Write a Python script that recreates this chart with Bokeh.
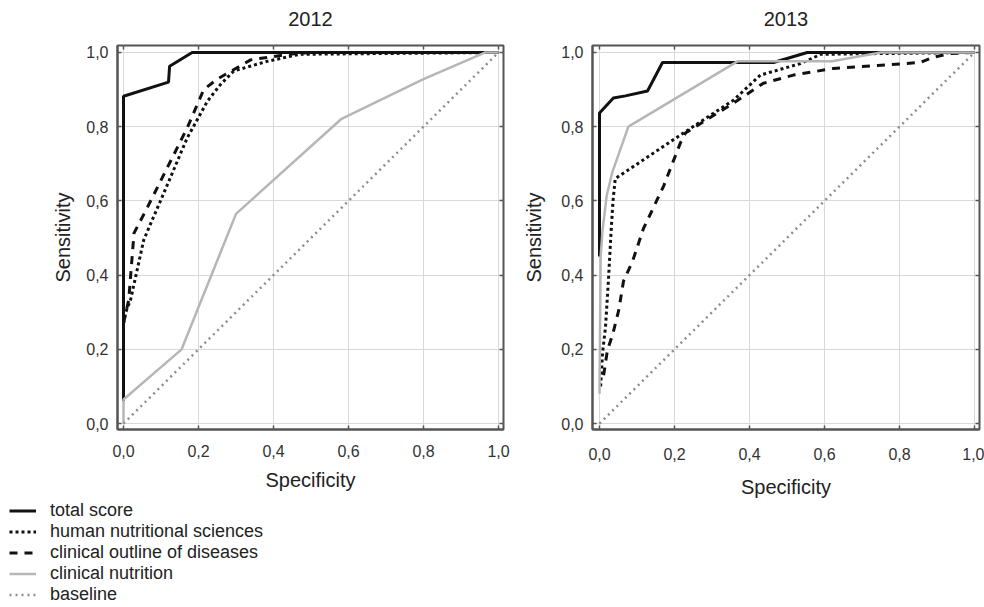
import numpy as np
from bokeh.plotting import figure
from bokeh.layouts import row, column
from bokeh.models import (FixedTicker, CustomJSTickFormatter, LinearAxis, Range1d,
                          Legend, LegendItem)
from bokeh.embed import file_html
from bokeh.resources import INLINE

FONT = "Liberation Sans"

ticks = [0.0, 0.2, 0.4, 0.6, 0.8, 1.0]
tick_labels = ["0,0", "0,2", "0,4", "0,6", "0,8", "1,0"]

series_names = ["total score", "human nutritional sciences",
                "clinical outline of diseases", "clinical nutrition", "baseline"]

# ---- 2012 ----
total_2012_x = [0.0, 0.0, 0.12, 0.123, 0.183, 1.0]
total_2012_y = [0.06, 0.882, 0.92, 0.963, 1.0, 1.0]
human_2012_x = [0.0, 0.006, 0.019, 0.054, 0.107, 0.17, 0.224, 0.259, 0.294, 0.383, 0.47, 1.0]
human_2012_y = [0.27, 0.30, 0.334, 0.495, 0.62, 0.77, 0.869, 0.914, 0.95, 0.976, 0.995, 1.0]
outline_2012_x = [0.0, 0.014, 0.028, 0.064, 0.117, 0.17, 0.214, 0.25, 0.339, 0.44, 0.5, 1.0]
outline_2012_y = [0.27, 0.334, 0.513, 0.583, 0.69, 0.797, 0.90, 0.928, 0.98, 0.995, 1.0, 1.0]
nutrition_2012_x = [0.0, 0.0, 0.155, 0.30, 0.58, 0.80, 0.965, 1.0]
nutrition_2012_y = [0.0, 0.065, 0.2, 0.565, 0.82, 0.928, 1.0, 1.0]
baseline_x = [0.0, 1.0]
baseline_y = [0.0, 1.0]

# ---- 2013 ----
total_2013_x = [0.0, 0.0, 0.037, 0.069, 0.128, 0.168, 0.464, 0.554, 1.0]
total_2013_y = [0.45, 0.837, 0.877, 0.883, 0.896, 0.973, 0.973, 1.0, 1.0]
human_2013_x = [0.003, 0.008, 0.016, 0.024, 0.031, 0.036, 0.042, 0.224, 0.358, 0.429, 0.536, 0.59, 1.0]
human_2013_y = [0.10, 0.19, 0.26, 0.39, 0.52, 0.60, 0.66, 0.783, 0.872, 0.939, 0.97, 0.995, 1.0]
outline_2013_x = [0.011, 0.021, 0.035, 0.051, 0.064, 0.088, 0.117, 0.171, 0.216, 0.229, 0.358,
                  0.437, 0.517, 0.624, 0.741, 0.856, 0.89, 0.936, 1.0]
outline_2013_y = [0.13, 0.197, 0.24, 0.304, 0.384, 0.437, 0.525, 0.64, 0.757, 0.783, 0.864,
                  0.917, 0.939, 0.957, 0.965, 0.973, 0.987, 0.997, 1.0]
nutrition_2013_x = [0.0, 0.003, 0.008, 0.019, 0.034, 0.077, 0.368, 0.62, 0.75, 1.0]
nutrition_2013_y = [0.08, 0.45, 0.52, 0.613, 0.677, 0.80, 0.976, 0.976, 1.0, 1.0]

data_2012 = {
    "total score": (total_2012_x, total_2012_y),
    "human nutritional sciences": (human_2012_x, human_2012_y),
    "clinical outline of diseases": (outline_2012_x, outline_2012_y),
    "clinical nutrition": (nutrition_2012_x, nutrition_2012_y),
    "baseline": (baseline_x, baseline_y),
}
data_2013 = {
    "total score": (total_2013_x, total_2013_y),
    "human nutritional sciences": (human_2013_x, human_2013_y),
    "clinical outline of diseases": (outline_2013_x, outline_2013_y),
    "clinical nutrition": (nutrition_2013_x, nutrition_2013_y),
    "baseline": (baseline_x, baseline_y),
}

styles = {
    "total score": dict(line_color="#111111", line_width=3),
    "human nutritional sciences": dict(line_color="#111111", line_width=3, line_dash="3 3"),
    "clinical outline of diseases": dict(line_color="#111111", line_width=3, line_dash="8 7"),
    "clinical nutrition": dict(line_color="#b6b6b6", line_width=2.5),
    "baseline": dict(line_color="#8e8e8e", line_width=2.5, line_dash="2 4"),
}
draw_order = ["total score", "clinical outline of diseases", "human nutritional sciences",
              "clinical nutrition", "baseline"]

FRAME_COLOR = "#555555"


def label_formatter():
    return CustomJSTickFormatter(
        args=dict(tvals=ticks, tlabs=tick_labels),
        code="""
        for (let i = 0; i < tvals.length; i++) {
            if (Math.abs(tvals[i] - tick) < 1e-9) { return tlabs[i]; }
        }
        return "";
        """)


def make_plot(title, data, width, height, borders, xr, yr, xstand, ystand, title_gap):
    p = figure(width=width, height=height, output_backend="svg", toolbar_location=None,
               x_range=Range1d(*xr), y_range=Range1d(*yr), title=None,
               min_border_left=borders[0], min_border_right=borders[1],
               min_border_top=borders[2], min_border_bottom=borders[3])

    p.outline_line_color = FRAME_COLOR
    p.outline_line_width = 2
    p.background_fill_color = "white"

    for ax, (mls, als) in ((p.xaxis[0], xstand), (p.yaxis[0], ystand)):
        ax.ticker = FixedTicker(ticks=ticks)
        ax.formatter = label_formatter()
        ax.major_label_text_font = FONT
        ax.major_label_text_font_size = "16px"
        ax.major_label_text_color = "#333333"
        ax.major_label_standoff = mls
        ax.axis_label_standoff = als
        ax.axis_label_text_font = FONT
        ax.axis_label_text_font_size = "20px"
        ax.axis_label_text_font_style = "normal"
        ax.axis_label_text_color = "#222222"
        ax.axis_line_color = FRAME_COLOR
        ax.axis_line_width = 2
        ax.major_tick_in = 4
        ax.major_tick_out = 0
        ax.major_tick_line_color = FRAME_COLOR
        ax.major_tick_line_width = 1.5
        ax.minor_tick_line_color = None
    p.xaxis.axis_label = "Specificity"
    p.yaxis.axis_label = "Sensitivity"

    # top axis: inner ticks only, its axis label acts as the panel title
    top = LinearAxis(ticker=FixedTicker(ticks=ticks),
                     formatter=CustomJSTickFormatter(code="return '';"),
                     major_label_text_font_size="0px", major_label_standoff=0,
                     major_tick_in=4, major_tick_out=0,
                     major_tick_line_color=FRAME_COLOR, major_tick_line_width=1.5,
                     minor_tick_line_color=None, axis_line_color=None,
                     axis_label=title, axis_label_standoff=title_gap,
                     axis_label_text_font=FONT, axis_label_text_font_size="20px",
                     axis_label_text_font_style="normal", axis_label_text_color="#222222")
    p.add_layout(top, "above")
    right = LinearAxis(ticker=FixedTicker(ticks=ticks),
                       formatter=CustomJSTickFormatter(code="return '';"),
                       major_label_text_font_size="0px", major_label_standoff=0,
                       major_tick_in=4, major_tick_out=0,
                       major_tick_line_color=FRAME_COLOR, major_tick_line_width=1.5,
                       minor_tick_line_color=None, axis_line_color=None)
    p.add_layout(right, "right")

    p.xgrid.ticker = FixedTicker(ticks=ticks)
    p.ygrid.ticker = FixedTicker(ticks=ticks)
    p.grid.grid_line_color = "#d9d9d9"
    p.grid.grid_line_width = 1

    for name in draw_order:
        xs, ys = data[name]
        p.line(xs, ys, **styles[name])
    return p


p1 = make_plot("2012", data_2012, 512, 500, (117, 9, 44, 69),
               (-0.016, 1.0133), (-0.016, 1.0187), (15, 9), (9, 9), 20)
p2 = make_plot("2013", data_2013, 472, 500, (80, 5, 45, 67),
               (-0.0187, 1.0133), (-0.016, 1.0187), (18, 13), (9, 13), 20)

leg = figure(width=330, height=107, output_backend="svg", toolbar_location=None,
             x_axis_type=None, y_axis_type=None, min_border=0, min_border_left=9,
             x_range=Range1d(0, 1), y_range=Range1d(0, 1))
leg.outline_line_color = None
items = []
for name in series_names:
    r = leg.line(x=np.array([np.nan]), y=np.array([np.nan]), **styles[name])
    items.append(LegendItem(label=name, renderers=[r]))
legend = Legend(items=items, location="top_left", margin=0, padding=2,
                glyph_width=27, glyph_height=21, label_height=21, label_standoff=14,
                spacing=0, label_text_font=FONT, label_text_font_size="18px",
                label_text_color="#222222", border_line_color=None,
                background_fill_alpha=0)
leg.add_layout(legend)

layout = column(row(p1, p2), leg)

open("out.html", "w").write(file_html(layout, INLINE))
